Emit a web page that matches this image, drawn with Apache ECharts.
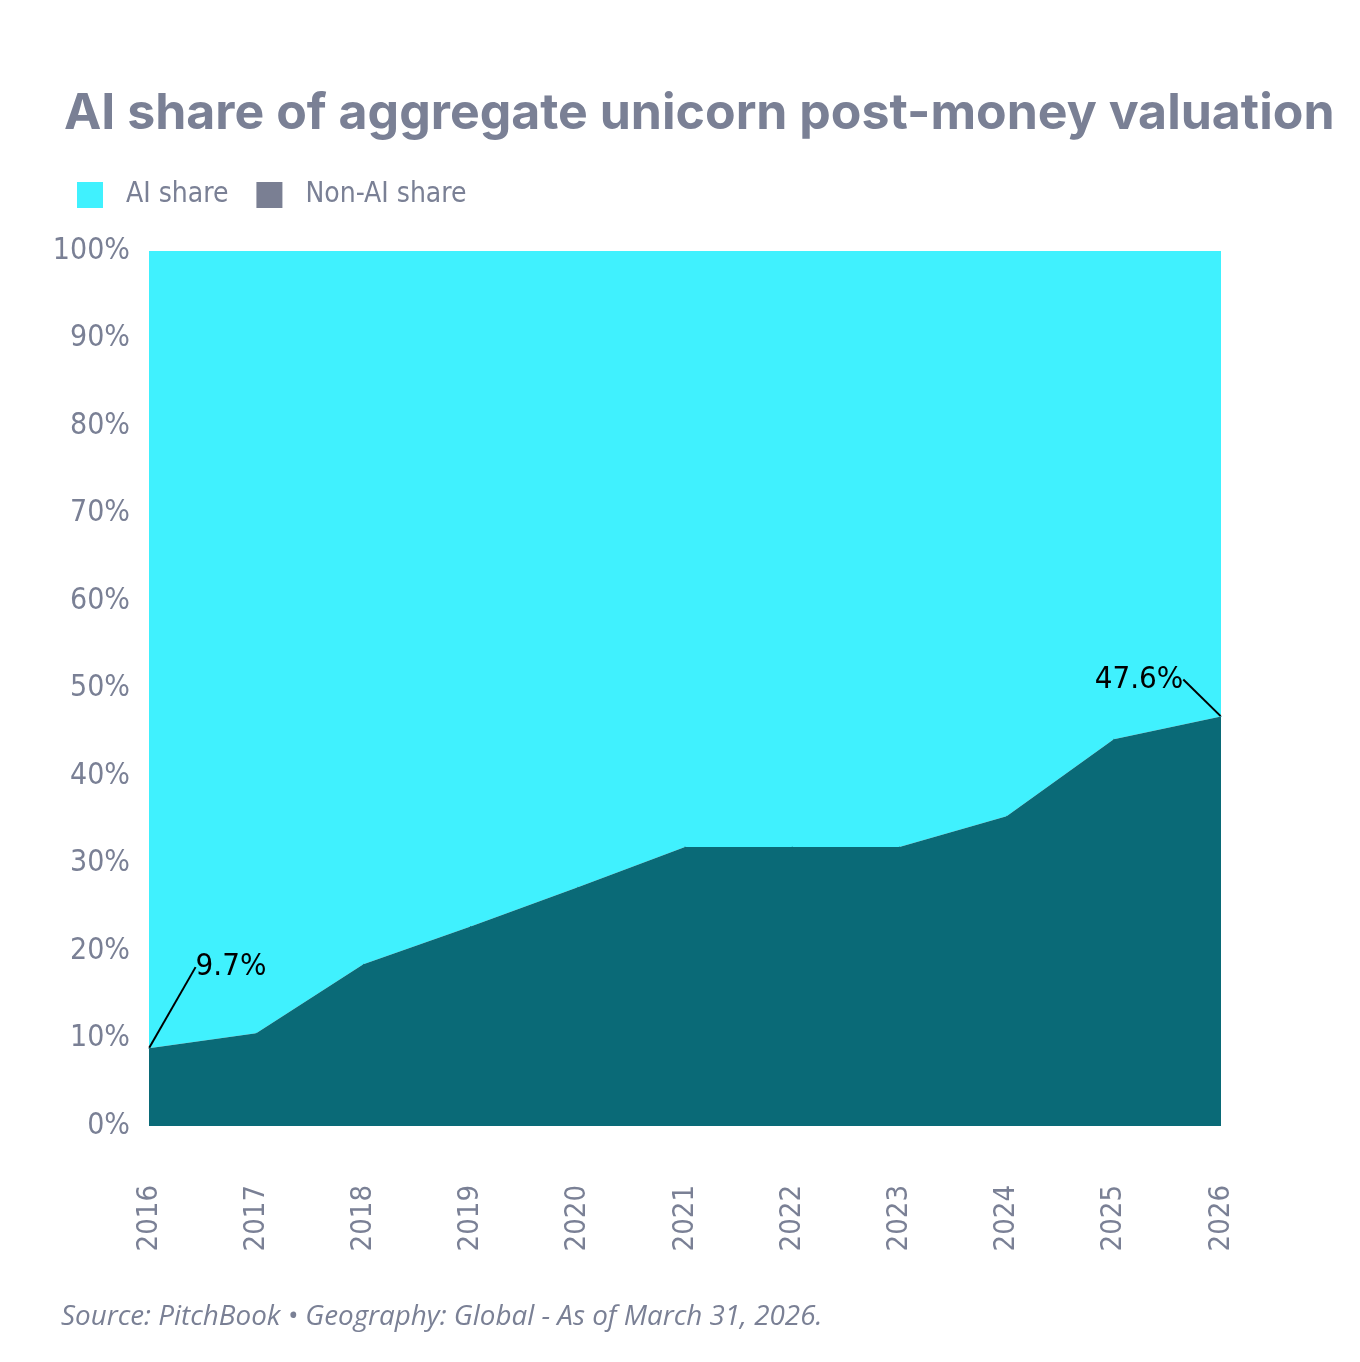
<!DOCTYPE html>
<html>
<head>
<meta charset="utf-8">
<script src="https://cdn.jsdelivr.net/npm/echarts@6/dist/echarts.min.js"></script>
<style>
  html, body { margin: 0; padding: 0; background: #fff; }
  #chart { width: 1360px; height: 1362px; }
</style>
</head>
<body>
<div id="chart"></div>
<script>
const years = ['2016', '2017', '2018', '2019', '2020', '2021', '2022', '2023', '2024', '2025', '2026'];
const lowerShare = [8.9, 10.6, 18.5, 22.8, 27.3, 31.9, 31.9, 31.9, 35.4, 44.2, 46.8];
const upperShare = [91.1, 89.4, 81.5, 77.2, 72.7, 68.1, 68.1, 68.1, 64.6, 55.8, 53.2];
const yTicks = [0, 10, 20, 30, 40, 50, 60, 70, 80, 90, 100];
// callout text shown on the first and last point
const callouts = { 0: '9.7%', 10: '47.6%' };

const grey = '#7a8095';
const narrow = '"Liberation Sans Narrow", "DejaVu Sans Condensed", sans-serif';

// only the called-out points get a label and a leader line
const lowerData = lowerShare.map(function (v, i) {
  if (!callouts[i]) return v;
  return {
    value: v,
    label: {show: true, formatter: callouts[i]},
    labelLine: {show: true}
  };
});

let chart = echarts.init(document.getElementById('chart'), null, {renderer: 'canvas'});

let option = {
  animation: false,
  title: {
    text: 'AI share of aggregate unicorn post-money valuation',
    left: 59,
    top: 84,
    textStyle: {
      fontFamily: 'Inter',
      fontSize: 50,
      fontWeight: 'bold',
      color: grey
    }
  },
  legend: {
    left: 72,
    top: 176,
    itemWidth: 26,
    itemHeight: 26,
    itemGap: 28,
    icon: 'rect',
    textStyle: {
      fontFamily: narrow,
      fontSize: 28,
      color: grey,
      padding: [0, 0, 0, 18]
    },
    data: [
      {name: 'AI share', itemStyle: {color: '#40f1fe'}},
      {name: 'Non-AI share', itemStyle: {color: '#7a7f93'}}
    ]
  },
  grid: {
    left: 149,
    right: 139,
    top: 251,
    bottom: 236,
    containLabel: false
  },
  xAxis: {
    type: 'category',
    data: years,
    boundaryGap: false,
    axisLine: {show: false},
    axisTick: {show: false},
    splitLine: {show: false},
    axisLabel: {
      rotate: 90,
      margin: 59,
      fontFamily: narrow,
      fontSize: 29,
      color: grey
    }
  },
  yAxis: {
    type: 'value',
    min: 0,
    max: 100,
    interval: 10,
    axisLine: {show: false},
    axisTick: {show: false},
    splitLine: {show: false},
    axisLabel: {
      margin: 19,
      fontFamily: narrow,
      fontSize: 30,
      color: grey,
      formatter: function (v) { return yTicks.indexOf(v) >= 0 ? v + '%' : ''; }
    }
  },
  series: [
    {
      name: 'Non-AI share',
      type: 'line',
      stack: 'total',
      data: lowerData,
      symbol: 'circle',
      symbolSize: 1,
      showSymbol: true,
      lineStyle: {width: 0},
      areaStyle: {color: '#0a6a77', opacity: 1},
      itemStyle: {color: '#0a6a77'},
      label: {
        show: false,
        position: 'top',
        fontFamily: narrow,
        fontSize: 31,
        color: '#000'
      },
      labelLine: {
        show: false,
        lineStyle: {color: '#000', width: 2}
      },
      labelLayout: function (p) {
        if (p.dataIndex === 0) return {dx: 82, dy: -60};
        if (p.dataIndex === 10) return {dx: -82, dy: -16};
        return {};
      },
      z: 3
    },
    {
      name: 'AI share',
      type: 'line',
      stack: 'total',
      data: upperShare,
      symbol: 'none',
      lineStyle: {width: 0},
      areaStyle: {color: '#40f1fe', opacity: 1},
      itemStyle: {color: '#40f1fe'},
      z: 2
    }
  ],
  graphic: [
    {
      type: 'text',
      left: 61,
      top: 1303,
      style: {
        text: 'Source: PitchBook \u2022 Geography: Global - As of March 31, 2026.',
        fontFamily: '"Open Sans"',
        fontStyle: 'italic',
        fontSize: 27.8,
        fill: grey
      }
    }
  ]
};

chart.setOption(option);
window.addEventListener('resize', function () {
  chart.resize();
});
</script>
</body>
</html>
